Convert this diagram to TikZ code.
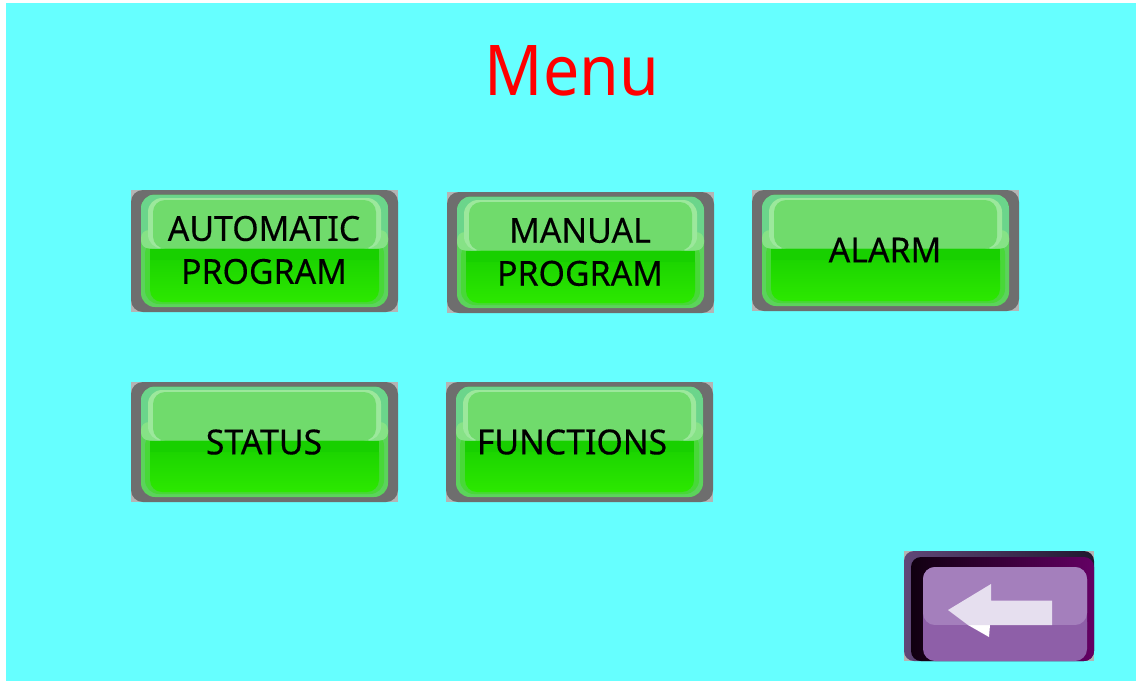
\documentclass[tikz,border=0pt]{standalone}
\usepackage{fontspec}
\setmainfont{Noto Sans}
\newfontfamily\btnfont[FakeStretch=0.98,FakeBold=0.3]{Noto Sans}
\newfontfamily\titlefont[FakeStretch=0.92]{Noto Sans}
\definecolor{bgcyan}{HTML}{66FFFF}
\definecolor{frame}{HTML}{6E6E6E}
\definecolor{corner}{HTML}{B4B4B4}
\definecolor{rim}{HTML}{5CD35C}
\definecolor{rimmid}{HTML}{48D838}
\definecolor{rimtop}{HTML}{6BD58B}
\definecolor{ringtop}{HTML}{9CE89C}
\definecolor{ringlow}{HTML}{86E286}
\definecolor{glosstop}{HTML}{70DB6C}
\definecolor{faceA}{HTML}{18D000}
\definecolor{faceB}{HTML}{2CE800}
\definecolor{purpA}{HTML}{A47FBC}
\definecolor{purpB}{HTML}{8E5FA8}
\definecolor{purpD}{HTML}{604878}
\definecolor{purpE}{HTML}{201830}
\definecolor{darkL}{HTML}{100010}
\definecolor{darkR}{HTML}{640064}
\definecolor{arrowW}{HTML}{E6DFEF}
\definecolor{redtxt}{HTML}{FF0000}
\tikzset{
  btntext/.style={font=\btnfont\fontsize{34.5}{43}\selectfont,align=center,text=black,inner sep=0pt},
  titletext/.style={font=\titlefont\fontsize{70}{80}\selectfont,text=redtxt,inner sep=0pt}
}
% #1 #2 frame top left, #3 height, #4 name, #5 text position, #6 text
\newcommand{\greenbtn}[6]{%
  \begin{scope}[shift={(#1,#2)}]
    \fill[corner] (0,0) rectangle (267,#3);
    \fill[frame,rounded corners=12] (0,0) rectangle (267,#3);
    \fill[rim,rounded corners=14] (10,4.5) rectangle (257,#3-5);
    \fill[rimmid,rounded corners=14] (14,50) -- (253,50) -- (253,#3-8) -- (14,#3-8) -- cycle;
    \begin{scope}
      \clip[rounded corners=14] (10,4.5) rectangle (257,58.5);
      \fill[rimtop] (10,4.5) rectangle (257,58.5);
    \end{scope}
    \fill[ringlow,rounded corners=8] (10,40) rectangle (257,58.5);
    \fill[ringtop,rounded corners=14] (17,8) rectangle (250,58.5);
    \fill[glosstop,rounded corners=12] (22,10) -- (245,10) -- (245,58.5) -- (22,58.5) -- cycle;
    \shade[top color=faceA,bottom color=faceB,rounded corners=12] (19,58.5) -- (248,58.5) -- (248,#3-10) -- (19,#3-10) -- cycle;
    \fill[faceA] (19,58.5) rectangle (248,70);
    \node[btntext] (#4) at (#5) {#6};
  \end{scope}}
\begin{document}
\begin{tikzpicture}[x=1pt,y=-1pt]
\useasboundingbox (0,0) rectangle (1136,681);
\fill[white] (0,0) rectangle (1136,681);
\fill[bgcyan] (6,3) rectangle (1136,681);
\node[titletext] (title) at (572,71) {Menu};
\greenbtn{131}{190}{122}{auto}{133,60}{AUTOMATIC\\PROGRAM}
\greenbtn{447}{192}{121}{manual}{133,60}{MANUAL\\PROGRAM}
\greenbtn{752}{190}{121}{alarm}{133,60}{ALARM}
\greenbtn{131}{382}{120}{status}{133,60}{STATUS}
\greenbtn{446}{382}{120}{functions}{126,60}{FUNCTIONS}
% back button
\fill[corner] (904,551) rectangle (1094,661);
\shade[left color=purpD,right color=purpE,rounded corners=10] (904,551) rectangle (1094,661);
\shade[left color=darkL,right color=darkR,rounded corners=10] (911,557) -- (1094,557) -- (1094,661) -- (911,661) -- cycle;
\fill[purpB,rounded corners=12] (923,567) rectangle (1087,661);
\fill[purpA,rounded corners=12] (923,567) rectangle (1087,625);
\fill[purpB] (923,622) -- (923,630) -- (1087,630) -- (1087,622) -- (1080,625) -- (930,625) -- cycle;
\node[inner sep=0pt,minimum size=0pt] (back) at (1000,608) {};
\fill[white] (968,625) -- (990,625) -- (989,637) -- cycle;
\fill[arrowW] (948,610) -- (991,584) -- (991,600.5) -- (1052,600.5) -- (1052,625) -- (968,625) -- cycle;
\end{tikzpicture}
\end{document}
